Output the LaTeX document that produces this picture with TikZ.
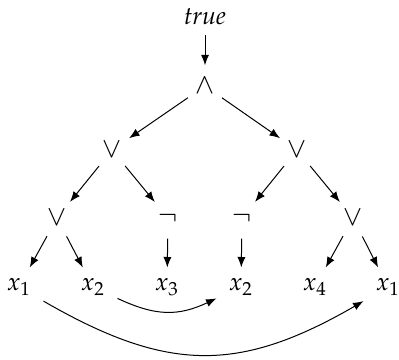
\documentclass[tikz,border=0pt]{standalone}
\usepackage[T1]{fontenc}
\usepackage{mathpazo}
\usetikzlibrary{arrows.meta, positioning}
\tikzset{every node/.style={font=\fontsize{10.5}{12}\selectfont}}
\DeclareSymbolFont{thinsym}{OMS}{lmsy}{m}{n}
\DeclareMathSymbol{\landop}{\mathbin}{thinsym}{"5E}
\DeclareMathSymbol{\lorop}{\mathbin}{thinsym}{"5F}
\DeclareMathSymbol{\lnotop}{\mathord}{thinsym}{"3A}

\begin{document}
\begin{tikzpicture}[x=0.42pt, y=-0.42pt,
    gate/.style={circle, inner sep=0pt, minimum size=17pt, font=\fontsize{13}{15}\selectfont},
    leaf/.style={inner xsep=5pt, inner ysep=0pt, minimum height=16pt},
    link/.style={->, >={Latex[length=4.4pt, width=3.4pt]}, line width=0.42pt}]
  \useasboundingbox (0,0) rectangle (399,360);
  % root and operators
  \node[inner sep=4pt] (goal) at (205,17) {\textit{true}};
  \node[gate] (conj) at (205,86) {$\landop$};
  \node[gate] (disjL) at (112,150) {$\lorop$};
  \node[gate] (disjR) at (297,150) {$\lorop$};
  \node[gate] (disjLL) at (57,218) {$\lorop$};
  \node[gate] (negL) at (168,218) {$\lnotop$};
  \node[gate] (negR) at (242,218) {$\lnotop$};
  \node[gate] (disjRR) at (353,218) {$\lorop$};
  % variables
  \node[leaf] (varA) at (19,287) {$x_1$};
  \node[leaf] (varB) at (93,287) {$x_2$};
  \node[leaf] (varC) at (167,287) {$x_3$};
  \node[leaf] (varD) at (241,287) {$x_2$};
  \node[leaf] (varE) at (315,287) {$x_4$};
  \node[leaf] (varF) at (388,287) {$x_1$};

  \draw[link] (goal) -- (conj);
  \draw[link] (conj) -- (disjL);
  \draw[link] (conj) -- (disjR);
  \draw[link] (disjL) -- (disjLL);
  \draw[link] (disjL) -- (negL);
  \draw[link] (disjR) -- (negR);
  \draw[link] (disjR) -- (disjRR);
  \draw[link] (disjLL) -- (varA);
  \draw[link] (disjLL) -- (varB);
  \draw[link] (negL) -- (varC);
  \draw[link] (negR) -- (varD);
  \draw[link] (disjRR) -- (varE);
  \draw[link] (disjRR) -- (varF);
  % sharing
  \draw[link] (varB) to[out=-25, in=-155, looseness=1.1] (varD);
  \draw[link] (varA) to[out=-30, in=-150, looseness=1.15] (varF);
\end{tikzpicture}
\end{document}
